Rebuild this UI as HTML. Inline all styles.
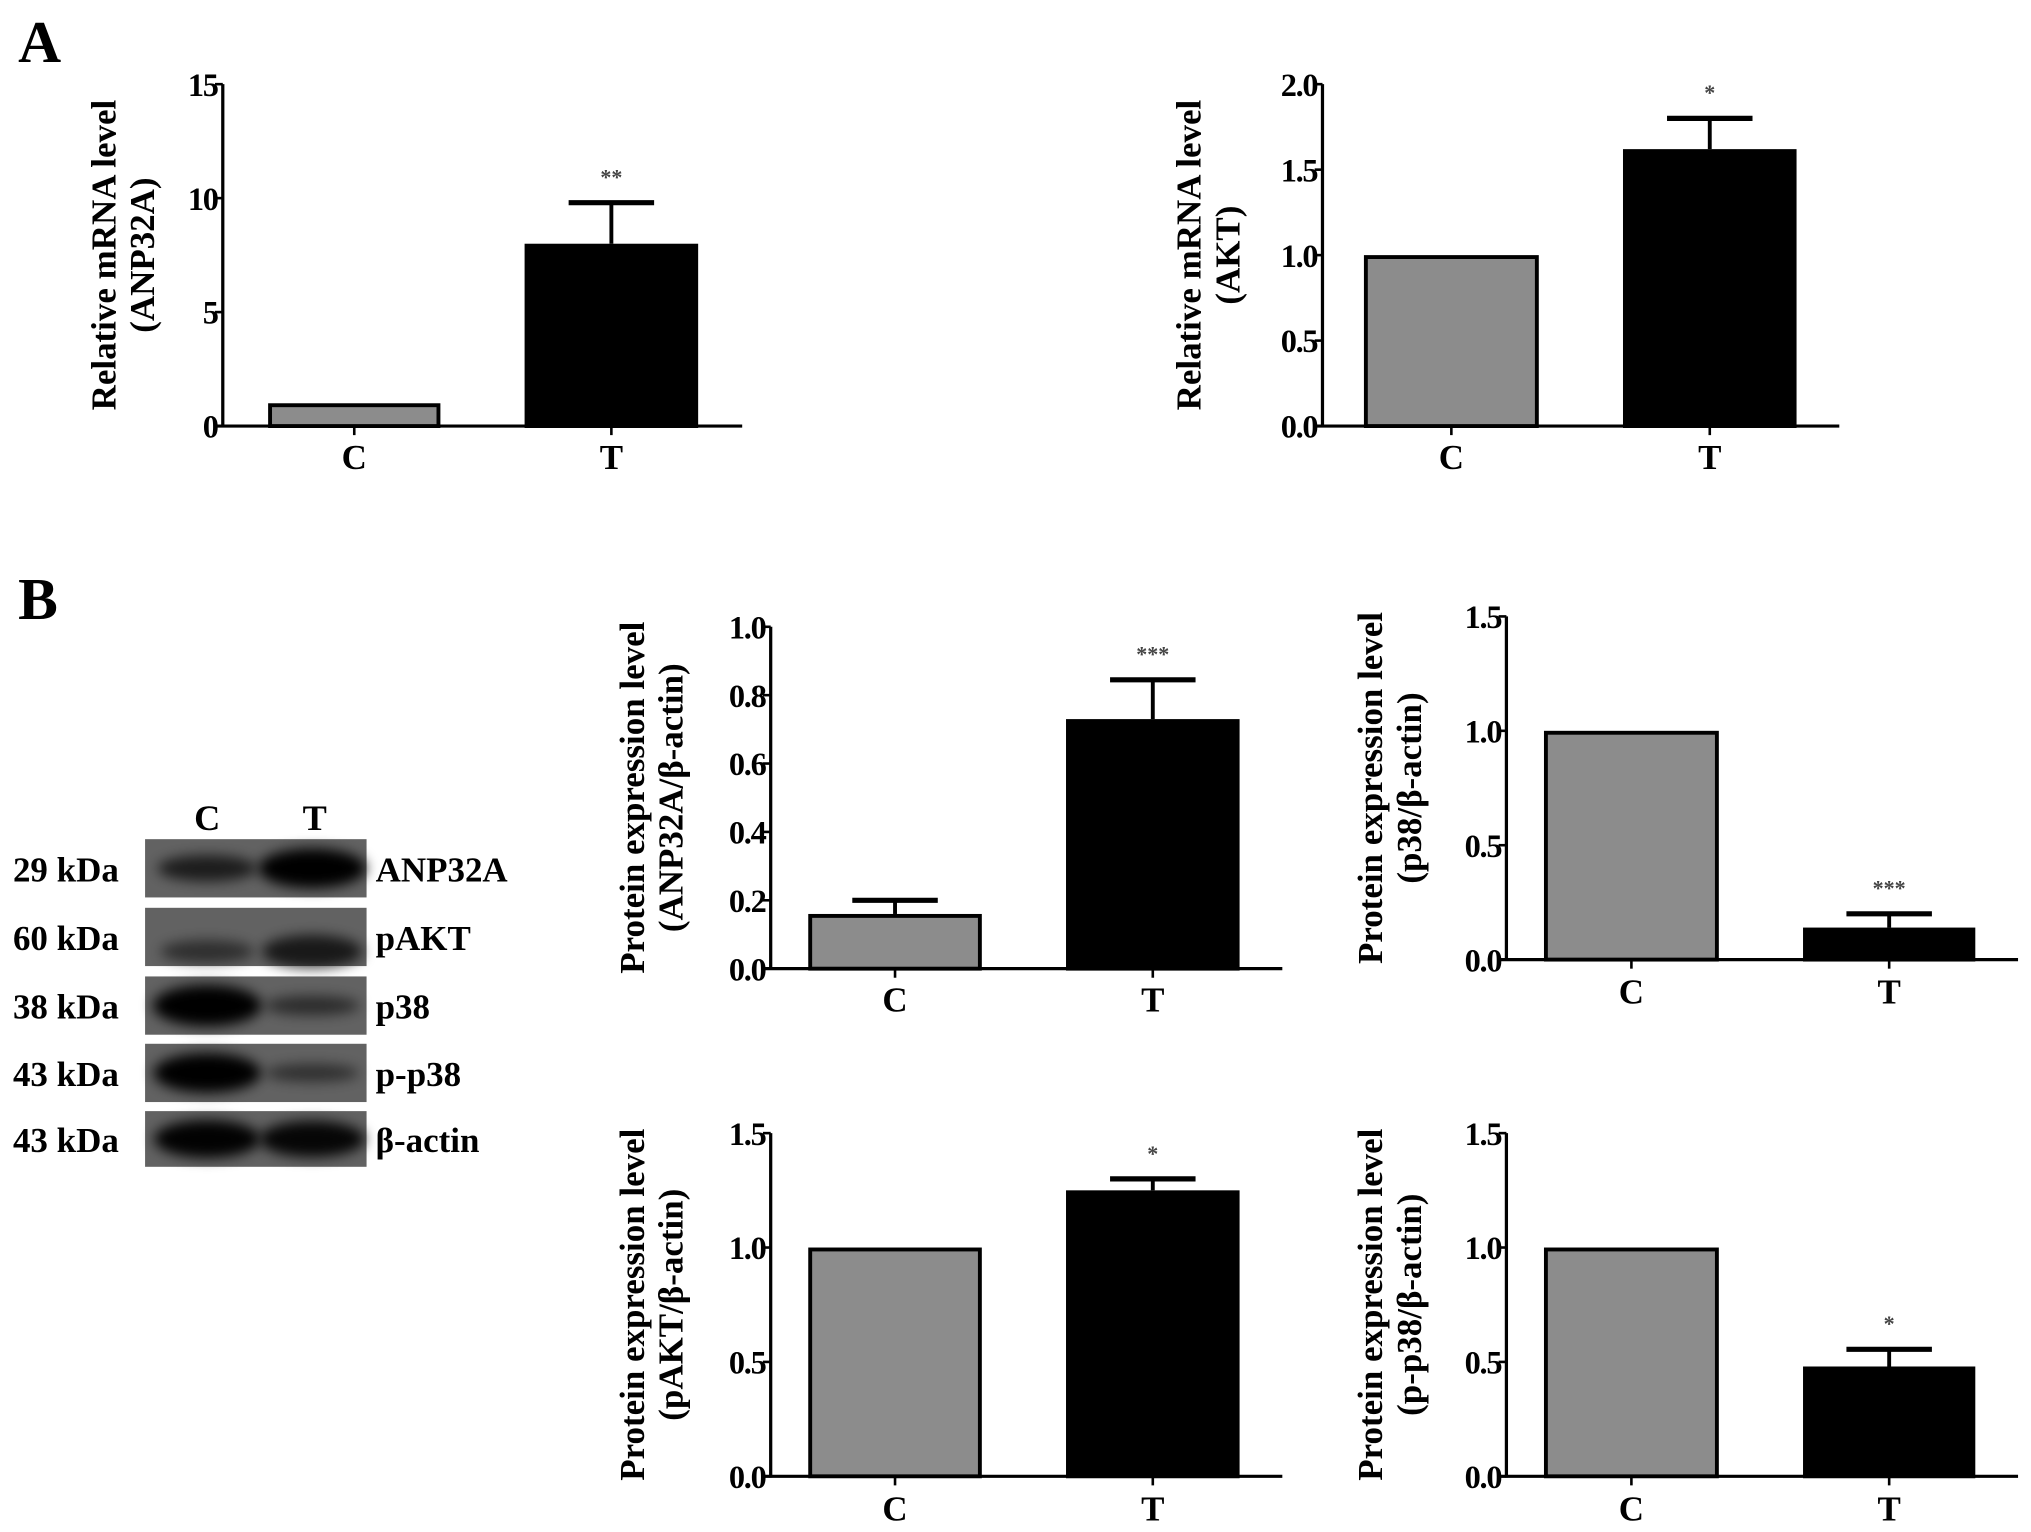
<!DOCTYPE html>
<html><head><meta charset="utf-8">
<style>
html,body{margin:0;padding:0;background:#fff;}
svg{display:block;font-family:"Liberation Serif",serif;font-weight:bold;}
</style></head>
<body>
<svg id="fig" width="2031" height="1532" viewBox="0 0 1568 1183" preserveAspectRatio="none" xmlns="http://www.w3.org/2000/svg">
<defs>
<filter id="blur" x="-30%" y="-80%" width="160%" height="260%"><feGaussianBlur stdDeviation="5"/></filter>
</defs>
<text x="14" y="48" font-size="46">A</text>
<text x="14" y="478" font-size="46">B</text>
<g id="charts"></g>
<g id="blot"></g>
</svg>
<script>
// chart data
const categories = ["C", "T"];
const a1Values = [1.0, 8.0];
const a1Errors = [0, 1.8];
const a1Ticks = ["0", "5", "10", "15"];
const a2Values = [1.0, 1.62];
const a2Errors = [0, 0.18];
const a2Ticks = ["0.0", "0.5", "1.0", "1.5", "2.0"];
const b1Values = [0.16, 0.73];
const b1Errors = [0.04, 0.115];
const b1Ticks = ["0.0", "0.2", "0.4", "0.6", "0.8", "1.0"];
const b2Values = [1.0, 0.14];
const b2Errors = [0, 0.06];
const b2Ticks = ["0.0", "0.5", "1.0", "1.5"];
const b3Values = [1.0, 1.25];
const b3Errors = [0, 0.05];
const b3Ticks = ["0.0", "0.5", "1.0", "1.5"];
const b4Values = [1.0, 0.48];
const b4Errors = [0, 0.075];
const b4Ticks = ["0.0", "0.5", "1.0", "1.5"];
const blotProteins = ["ANP32A", "pAKT", "p38", "p-p38", "β-actin"];
const blotKda = ["29 kDa", "60 kDa", "38 kDa", "43 kDa", "43 kDa"];
const blotIntensityC = [0.55, 0.3, 1.0, 0.95, 0.9];
const blotIntensityT = [0.95, 0.6, 0.35, 0.3, 0.85];

const NS = "http://www.w3.org/2000/svg";
function mk(tag, attrs, parent){const e=document.createElementNS(NS,tag);for(const k in attrs)e.setAttribute(k,attrs[k]);parent.appendChild(e);return e;}

const charts = [
 {id:"a1", ax:172, top:65, bot:329, xend:573, bars:[[207,340],[405,539]], vals:a1Values, errs:a1Errors, ticks:a1Ticks, max:15, title:["Relative mRNA level","(ANP32A)"], tx:[80,110], sig:"**", labY:352},
 {id:"a2", ax:1021, top:65, bot:329, xend:1420, bars:[[1053,1188],[1253,1387]], vals:a2Values, errs:a2Errors, ticks:a2Ticks, max:2.0, title:["Relative mRNA level","(AKT)"], tx:[918,948], sig:"*", labY:352},
 {id:"b1", ax:595, top:484, bot:748, xend:990, bars:[[624,758],[823,957]], vals:b1Values, errs:b1Errors, ticks:b1Ticks, max:1.0, title:["Protein expression level","(ANP32A/β-actin)"], tx:[488,518], sig:"***", labY:771},
 {id:"b2", ax:1163, top:476, bot:741, xend:1558, bars:[[1192,1327],[1392,1525]], vals:b2Values, errs:b2Errors, ticks:b2Ticks, max:1.5, title:["Protein expression level","(p38/β-actin)"], tx:[1058,1088], sig:"***", labY:765},
 {id:"b3", ax:595, top:875, bot:1140, xend:990, bars:[[624,758],[823,957]], vals:b3Values, errs:b3Errors, ticks:b3Ticks, max:1.5, title:["Protein expression level","(pAKT/β-actin)"], tx:[488,518], sig:"*", labY:1164},
 {id:"b4", ax:1163, top:875, bot:1140, xend:1558, bars:[[1192,1327],[1392,1525]], vals:b4Values, errs:b4Errors, ticks:b4Ticks, max:1.5, title:["Protein expression level","(p-p38/β-actin)"], tx:[1058,1088], sig:"*", labY:1164}
];

const root = document.getElementById("charts");
charts.forEach(c=>{
  const g = mk("g",{},root);
  
  
  const y = v => c.bot - (v/c.max)*(c.bot-c.top);
  c.vals.forEach((v,i)=>{
    const [x0,x1]=c.bars[i];
    const cx=(x0+x1)/2;
    if(c.errs[i]>0){
      const ey=y(v+c.errs[i]);
      const el=mk("line",{x1:cx,x2:cx,y1:y(v),y2:ey,stroke:"#000","stroke-width":3},g);
      
      
      const cap=mk("line",{x1:cx-33,x2:cx+33,y1:ey,y2:ey,stroke:"#000","stroke-width":4},g);
      
      
    }
    const r=mk("rect",{x:x0+1.5,y:y(v)+1.5,width:x1-x0-3,height:c.bot-y(v)-1.5,fill:i==0?"#8c8c8c":"#000",stroke:"#000","stroke-width":3},g);
    
    
    const t=mk("text",{x:cx,y:c.labY+10,"font-size":27,"text-anchor":"middle"},g);
    t.textContent=categories[i];
    
    
    mk("line",{x1:cx,x2:cx,y1:c.bot,y2:c.bot+7,stroke:"#000","stroke-width":2},g);
  });
  const lastI=c.vals.length-1;
  const sx=(c.bars[lastI][0]+c.bars[lastI][1])/2;
  const sy=y(c.vals[lastI]+c.errs[lastI])-14;
  const s=mk("text",{x:sx,y:sy,"font-size":17,"text-anchor":"middle",fill:"#444"},g);
  s.textContent=c.sig;
  
  
  const ya=mk("line",{x1:c.ax,x2:c.ax,y1:c.top,y2:c.bot+1,stroke:"#000","stroke-width":2.5},g);
  
  
  const xa=mk("line",{x1:c.ax-5,x2:c.xend,y1:c.bot,y2:c.bot,stroke:"#000","stroke-width":2.5},g);
  
  
  const n=c.ticks.length;
  c.ticks.forEach((lab,i)=>{
    const v=c.max*i/(n-1);
    const ty=y(v);
    mk("line",{x1:c.ax-6,x2:c.ax,y1:ty,y2:ty,stroke:"#000","stroke-width":2},g);
    const t=mk("text",{x:c.ax-4,y:ty+9,"font-size":25,"text-anchor":"end","letter-spacing":"-1"},g);
    t.textContent=lab;
    
    
  });
  const cy=(c.top+c.bot)/2;
  c.title.forEach((line,k)=>{
    const t=mk("text",{x:0,y:0,"font-size":27,"text-anchor":"middle",transform:`translate(${c.tx[k]+9},${cy}) rotate(-90)`},g);
    t.textContent=line;
    
    
  });
});

const blot=document.getElementById("blot");
const rowTop=[648,701,754,806,858];
const rowH=[45,45,45,45,43];
const lanes=[["C",160],["T",243]];
lanes.forEach(([l,x])=>{
  const t=mk("text",{x:x,y:641,"font-size":28,"text-anchor":"middle"},blot);
  t.textContent=l;
  
  
});
blotProteins.forEach((p,i)=>{
  const yT=rowTop[i], h=rowH[i];
  const r=mk("rect",{x:112,y:yT,width:171,height:h,fill:"#626262"},blot);
  
  
  const cy=yT+h*(i==1?0.75:0.5);
  [blotIntensityC[i],blotIntensityT[i]].forEach((it,j)=>{
    const cx=lanes[j][1]+(j==0?0:-2);
    const rx=34+it*8, ry=(i==1?5:3)+it*13;
    const e=mk("ellipse",{cx:cx,cy:cy,rx:rx,ry:ry,fill:"#000","fill-opacity":Math.min(1,0.3+it*0.75),filter:"url(#blur)"},blot);
    
    
  });
  const k=mk("text",{x:10,y:yT+h/2+10,"font-size":27},blot);
  k.textContent=blotKda[i];
  
  
  const pl=mk("text",{x:290,y:yT+h/2+10,"font-size":27},blot);
  pl.textContent=p;
  
  
});
</script>
</body></html>
